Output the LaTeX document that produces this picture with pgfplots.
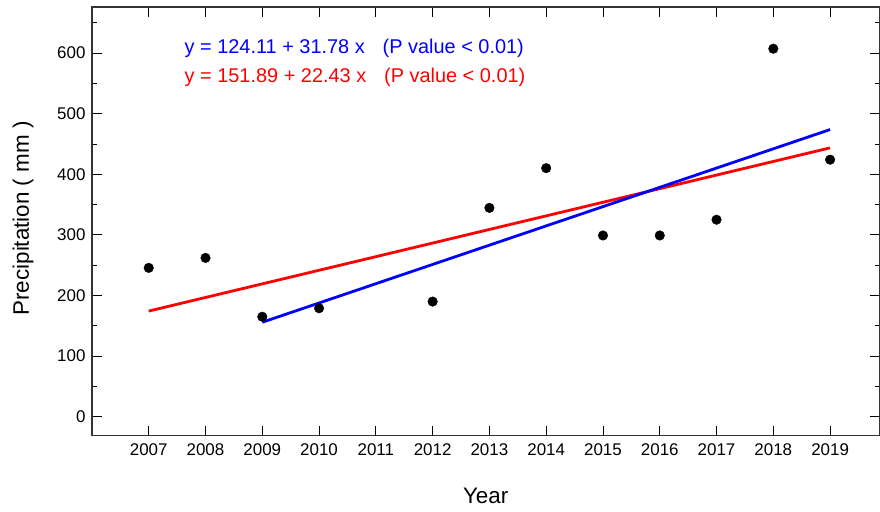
\documentclass[border=0pt]{standalone}
\usepackage{pgfplots}
\pgfplotsset{compat=1.18}
\usepackage{fontspec}
\setmainfont{Liberation Sans}
\begin{document}
\begin{tikzpicture}
\begin{axis}[
  scale only axis,
  width=788bp, height=429bp,
  xmin=2006, xmax=2019.87,
  ymin=-31.3, ymax=675.8,
  xtick={2007,2008,...,2019},
  ytick={0,100,...,600},
  minor ytick={-50,50,150,250,350,450,550,650},
  xticklabel style={/pgf/number format/1000 sep={}},
  /pgf/number format/assume math mode=true,
  tick label style={font=\fontsize{17}{20}\selectfont, text=black},
  tick align=inside,
  major tick length=10bp,
  minor tick length=5bp,
  every tick/.style={black, line width=0.8bp},
  axis line style={black!80, line width=1.3bp},
  xticklabel style={yshift=-4bp},
  yticklabel style={xshift=-3bp},
  every axis y label/.style={at={(axis description cs:0,0.5)}, xshift=-69bp, yshift=3bp, rotate=90, anchor=center},
  every axis x label/.style={at={(axis description cs:0.5,0)}, yshift=-60bp, anchor=center},
  ylabel={\fontsize{22.5}{26}\selectfont Precipitation ( mm )},
  xlabel={\fontsize{22.5}{26}\selectfont Year},
  clip=false,
]
\addplot[only marks, mark=*, mark size=4.8bp, black] coordinates {
 (2007,245.6) (2008,262) (2009,165) (2010,179) (2012,190) (2013,344.5)
 (2014,410) (2015,299) (2016,299) (2017,325) (2018,607) (2019,424)
};
\addplot[red, line width=2.8bp] coordinates {(2007,174.32) (2019,443.48)};
\addplot[blue, line width=2.8bp] coordinates {(2009,155.89) (2019,473.69)};
\node[anchor=west, inner sep=0pt, text=blue, font=\fontsize{20}{24}\selectfont] at (axis cs:2007.63,608) {y = 124.11 + 31.78 x\hspace{0.9em}(P value < 0.01)};
\node[anchor=west, inner sep=0pt, text=red, font=\fontsize{20}{24}\selectfont] at (axis cs:2007.63,560) {y = 151.89 + 22.43 x\hspace{0.9em}(P value < 0.01)};
\end{axis}
\pgfresetboundingbox
\path[use as bounding box] ([shift={(-92bp,-76bp)}]current axis.south west) rectangle ([shift={(0.5bp,7bp)}]current axis.north east);
\end{tikzpicture}
\end{document}
